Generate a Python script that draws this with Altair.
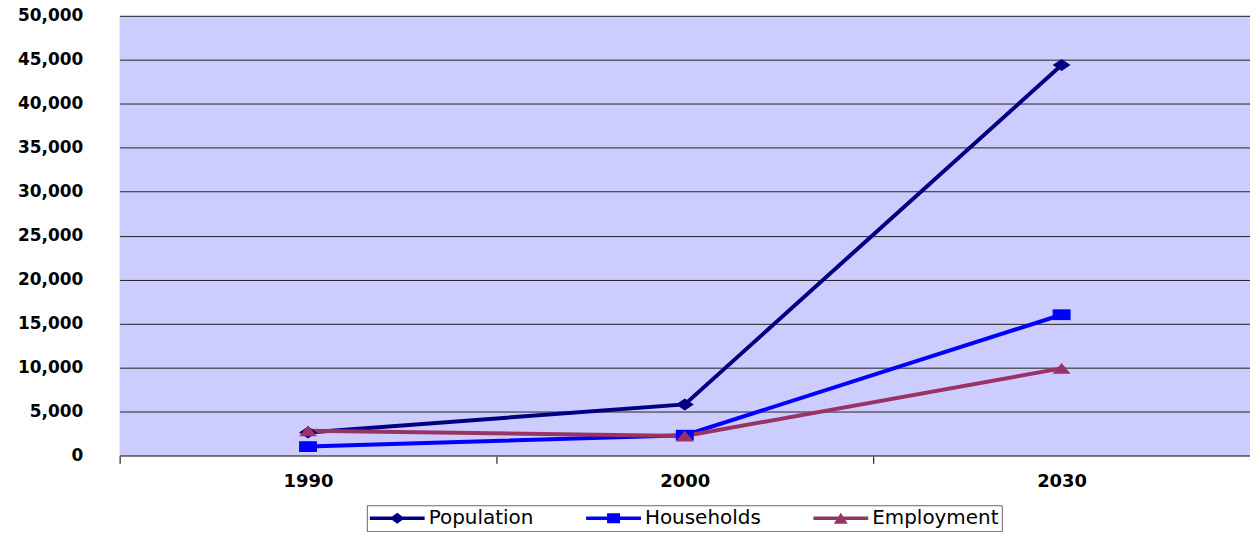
import altair as alt
import pandas as pd

years = ["1990", "2000", "2030"]
series = ["Population", "Households", "Employment"]
population = [2600, 5800, 44400]
households = [1000, 2300, 16000]
employment = [2800, 2200, 9900]
colors = ["#000080", "#0000FF", "#993366"]
y_ticks = list(range(0, 50001, 5000))

# marker shapes (unit square paths, stretched like the original)
plot_shapes = [
    "M-1,0L0,-0.67L1,0L0,0.67Z",
    "M-1,-0.6H1V0.6H-1Z",
    "M-1,0.6L0,-0.6L1,0.6Z",
]
# legend symbols: line + marker (unit = 10px at symbolSize 400)
legend_shapes = [
    "M-2.75,-0.18H2.75V0.18H-2.75Z M-0.75,0L0,-0.55L0.75,0L0,0.55Z",
    "M-2.75,-0.18H2.75V0.18H-2.75Z M-0.65,-0.5H0.65V0.5H-0.65Z",
    "M-2.75,-0.18H2.75V0.18H-2.75Z M-0.7,0.55L0,-0.55L0.7,0.55Z",
]

rows = []
for name, vals in zip(series, [population, households, employment]):
    for yr, v in zip(years, vals):
        rows.append({"year": yr, "series": name, "value": v})
df = pd.DataFrame(rows)

FONT = "DejaVu Sans"

x = alt.X(
    "year:N",
    scale=alt.Scale(type="band", domain=years, paddingInner=0, paddingOuter=0),
    axis=alt.Axis(
        title=None, labelAngle=0, tickBand="extent", ticks=True, tickSize=8,
        tickColor="#000000", domainColor="#707070", domainWidth=1.5,
        labelFont=FONT, labelFontWeight="bold", labelFontSize=18,
        labelPadding=9, labelColor="#000000",
    ),
)
y = alt.Y(
    "value:Q",
    scale=alt.Scale(domain=[0, 50000], nice=False, zero=True),
    axis=alt.Axis(
        title=None, values=y_ticks, format=",d", grid=True, gridColor="#222222",
        gridWidth=1, domain=False, ticks=False, labelPadding=37,
        labelFont=FONT, labelFontWeight="bold", labelFontSize=17,
        labelColor="#000000",
    ),
)

color_scale = alt.Scale(domain=series, range=colors)

lines = alt.Chart(df).mark_line(strokeWidth=4).encode(
    x=x, y=y,
    color=alt.Color("series:N", scale=color_scale, legend=None),
)

points = alt.Chart(df).mark_point(filled=True, size=324, opacity=1).encode(
    x=x, y=y,
    color=alt.Color("series:N", scale=color_scale, legend=None),
    shape=alt.Shape("series:N", scale=alt.Scale(domain=series, range=plot_shapes), legend=None),
)

leg = dict(
    orient="none", legendX=248, legendY=491, direction="horizontal", title=None,
    strokeColor="#666666", fillColor="#FFFFFF", padding=3,
    symbolSize=400, symbolStrokeWidth=0, symbolOffset=17.5,
    labelFont=FONT, labelFontSize=20,
    labelColor="#000000", labelOffset=21.5, columnPadding=52,
)

legend_layer = alt.Chart(df).transform_filter("datum.value < 0").mark_point(
    filled=True, size=400, opacity=1
).encode(
    x=x, y=y,
    color=alt.Color("series:N", scale=color_scale, legend=alt.Legend(**leg)),
    shape=alt.Shape("series:N", scale=alt.Scale(domain=series, range=legend_shapes),
                    legend=alt.Legend(**leg)),
)

chart = alt.layer(lines, points, legend_layer).resolve_scale(
    color="independent", shape="independent"
).properties(
    width=1134, height=441,
    autosize=alt.AutoSizeParams(type="none"),
    padding={"left": 112, "top": 7, "right": 0, "bottom": 76},
).configure_view(fill="#CCCCFF", stroke=None)

chart.save("out.html", embed_options={"renderer": "svg", "actions": False})
